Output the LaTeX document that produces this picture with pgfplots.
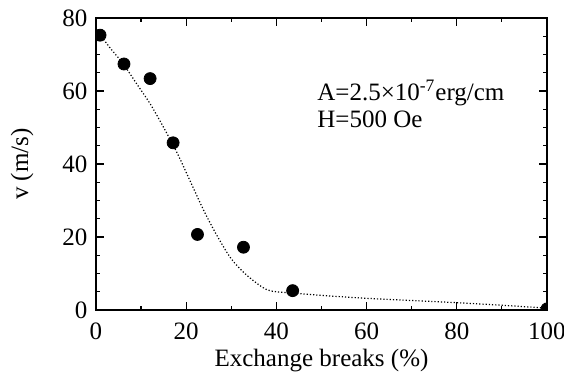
\documentclass[border=0pt]{standalone}
\usepackage{fontspec}
\setmainfont{Liberation Serif}
\usepackage{pgfplots}
\pgfplotsset{compat=1.18}
\begin{document}
\fontsize{12.5}{15}\selectfont
\begin{tikzpicture}
\begin{axis}[
  scale only axis,
  width=225.5pt, height=146pt,
  xmin=0, xmax=100, ymin=0, ymax=80,
  xtick={0,20,40,60,80,100},
  ytick={0,20,40,60,80},
  xticklabels={0,20,40,60,80,100},
  yticklabels={0,20,40,60,80},
  minor x tick num=1,
  minor y tick num=3,
  tick align=inside,
  major tick length=4pt,
  minor tick length=2pt,
  axis line style={line width=0.8pt},
  tick style={line width=0.6pt, black},
  ticklabel style={font=\fontsize{12.5}{15}\selectfont},
  xticklabel style={yshift=-2pt},
  xlabel={Exchange breaks (\%)},
  ylabel={v (m/s)},
  label style={font=\fontsize{12.5}{15}\selectfont},
  xlabel style={at={(axis description cs:0.5,-0.172)}, anchor=center},
  ylabel style={at={(axis description cs:-0.164,0.5)}, anchor=center},
  clip=true,
  clip marker paths=true,
]
\addplot[densely dotted, line width=0.6pt, smooth] coordinates {
(0,77) (3,72) (6,67.5) (9,62) (12,56.5) (15,50) (18,43) (21,35) (24,27)
(27,20) (30,14) (33,10) (36,7) (38,5.5) (40,5) (43,4.7) (50,4) (60,3.2)
(70,2.6) (80,2) (90,1.3) (100,0.5)
};
\addplot[only marks, mark=*, mark size=3pt, black] coordinates {
(0.9,75.3) (6.2,67.4) (12,63.4) (17.1,45.8) (22.5,20.7) (32.7,17.2) (43.6,5.3) (100,0.3)
};
\node[anchor=base west, inner sep=0pt, font=\fontsize{12.5}{15}\selectfont] at (axis cs:49,57.5)
  {A=2.5×10\textsuperscript{-7}erg/cm};
\node[anchor=base west, inner sep=0pt, font=\fontsize{12.5}{15}\selectfont] at (axis cs:49,49.9)
  {H=500 Oe};
\end{axis}
\pgfresetboundingbox
\path (current axis.south west) ++(-48pt,-32.5pt) rectangle ([shift={(8.5pt,9pt)}]current axis.north east);
\end{tikzpicture}
\end{document}
